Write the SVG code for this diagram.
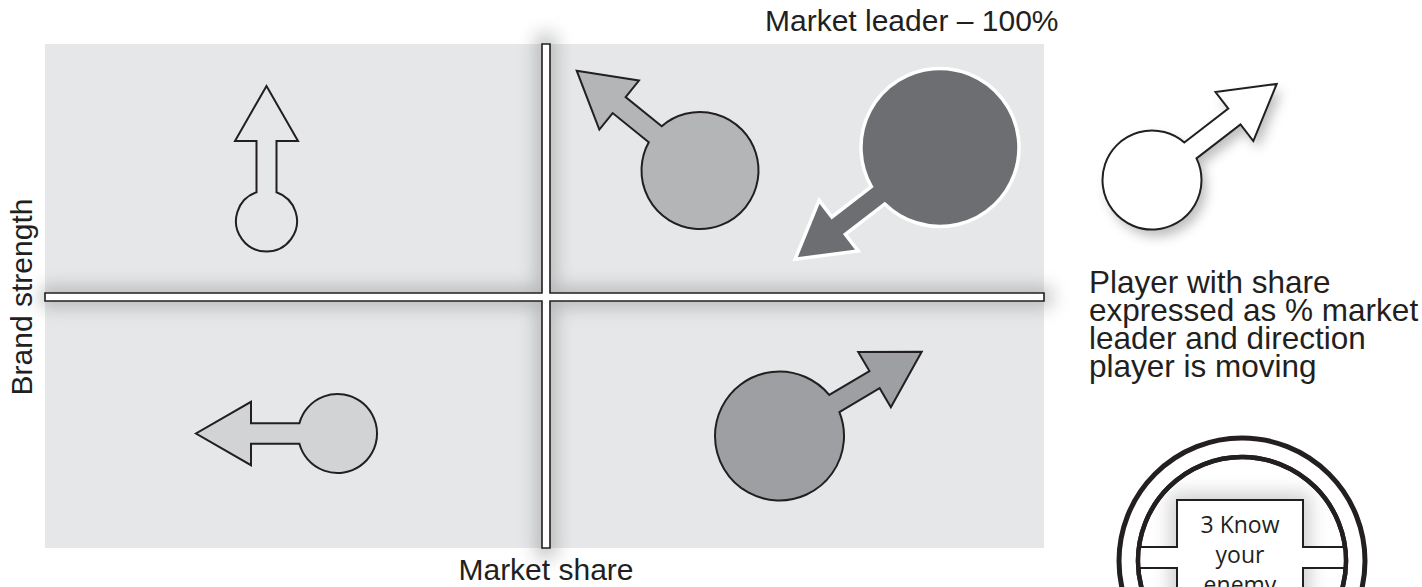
<svg xmlns="http://www.w3.org/2000/svg" width="1422" height="587" viewBox="0 0 1422 587">
<style>
.lbl{font-family:"Liberation Sans",Arial,sans-serif;font-size:30px;fill:#231f20}
.leg{font-family:"Liberation Sans",Arial,sans-serif;font-size:31.5px;fill:#231f20}
.badge{font-family:"Open Sans","Liberation Sans",sans-serif;font-size:23px;fill:#231f20}
.ol{stroke:#231f20;stroke-width:2;stroke-linejoin:miter}
</style>
<defs>
<filter id="blur6" x="-50%" y="-50%" width="200%" height="200%"><feGaussianBlur stdDeviation="6"/></filter>
<filter id="blur9" x="-20%" y="-20%" width="140%" height="140%"><feGaussianBlur stdDeviation="9"/></filter>
<clipPath id="innerClip"><circle cx="1242" cy="561" r="102"/></clipPath>
</defs>
<rect width="1422" height="587" fill="#ffffff"/>

<g id="matrix">
<rect x="45" y="44" width="999" height="504" fill="#e6e7e8"/>
<g opacity="0.55" filter="url(#blur9)">
<rect x="536" y="34" width="20" height="524" fill="#8e9092"/>
<rect x="40" y="287" width="1012" height="20" fill="#8e9092"/>
</g>
</g>

<g id="axes">
<path d="M542,44 H550 V293 H1044 V301 H550 V548 H542 V301 H45 V293 H542 Z" fill="#ffffff" stroke="#231f20" stroke-width="1.6"/>
</g>

<g id="player-top-left">
<path class="ol" fill="#e6e7e8" d="M276.5,192.2 L276.5,141 L298,141 L266.5,86 L235,141 L256.5,141 L256.5,192.2 A30.5,30.5 0 1 0 276.5,192.2 Z"/>
</g>

<g id="player-bottom-left">
<path class="ol" fill="#d1d3d4" d="M299.4,423.2 L251,423.2 L251,401.8 L196,433.5 L251,465.2 L251,443.8 L299.4,443.8 A39.5,39.5 0 1 0 299.4,423.2 Z"/>
</g>

<g id="player-top-middle">
<path class="ol" fill="#b4b5b7" d="M661.71,126.25 L625.63,97.04 L638.97,80.56 L576.7,70.7 L599.33,129.54 L612.67,113.06 L648.75,142.27 A58.5,58.5 0 1 0 661.71,126.25 Z"/>
</g>

<g id="player-leader">
<path fill="#6d6e71" stroke="#ffffff" stroke-width="3.5" d="M871.33,186.56 L831.92,216.95 L819.1,200.32 L795.08,259.24 L858.18,251 L845.36,234.37 L884.77,203.98 A79,79 0 1 0 871.33,186.56 Z"/>
</g>

<g id="player-bottom-right">
<path class="ol" fill="#9d9fa2" d="M839.41,412.1 L879.65,388.24 L890.87,407.17 L921.69,351.7 L858.23,352.11 L869.45,371.04 L829.21,394.9 A64.5,64.5 0 1 0 839.41,412.1 Z"/>
</g>

<g id="legend-player">
<path fill="#6d6e71" opacity="0.45" filter="url(#blur6)" transform="translate(5,7)" d="M1196.51,158.35 L1240.5,124.49 L1253.31,141.13 L1276.7,84 L1215.49,92.01 L1228.3,108.65 L1184.31,142.51 A49.5,49.5 0 1 0 1196.51,158.35 Z"/>
<path class="ol" fill="#ffffff" d="M1196.51,158.35 L1240.5,124.49 L1253.31,141.13 L1276.7,84 L1215.49,92.01 L1228.3,108.65 L1184.31,142.51 A49.5,49.5 0 1 0 1196.51,158.35 Z"/>
</g>

<g id="labels">
<text class="lbl" x="765" y="31">Market leader – 100%</text>
<text class="lbl" x="546" y="580" text-anchor="middle">Market share</text>
<text class="lbl" transform="translate(32,297) rotate(-90)" text-anchor="middle">Brand strength</text>
</g>

<g id="legend-text">
<text class="leg"><tspan x="1089" y="293">Player with share</tspan><tspan x="1089" y="321">expressed as % market</tspan><tspan x="1089" y="349">leader and direction</tspan><tspan x="1089" y="377">player is moving</tspan></text>
</g>

<g id="badge">
<circle cx="1242" cy="561" r="123" fill="#ffffff" stroke="#231f20" stroke-width="5"/>
<circle cx="1242" cy="561" r="104" fill="#ffffff" stroke="#231f20" stroke-width="4.5"/>
<g clip-path="url(#innerClip)">
<rect x="1170" y="493" width="140" height="120" fill="#a7a9ac" opacity="0.55" filter="url(#blur9)"/>
</g>
<path fill="#ffffff" stroke="#231f20" stroke-width="2" d="M1177,500 H1303 V547 H1346 V568 H1303 V600 H1177 V568 H1138 V547 H1177 Z"/>
<circle cx="1242" cy="561" r="104" fill="none" stroke="#231f20" stroke-width="4.5"/>
<text class="badge" text-anchor="middle"><tspan x="1240" y="533">3 Know</tspan><tspan x="1240" y="563">your</tspan><tspan x="1240" y="593">enemy</tspan></text>
</g>
</svg>
